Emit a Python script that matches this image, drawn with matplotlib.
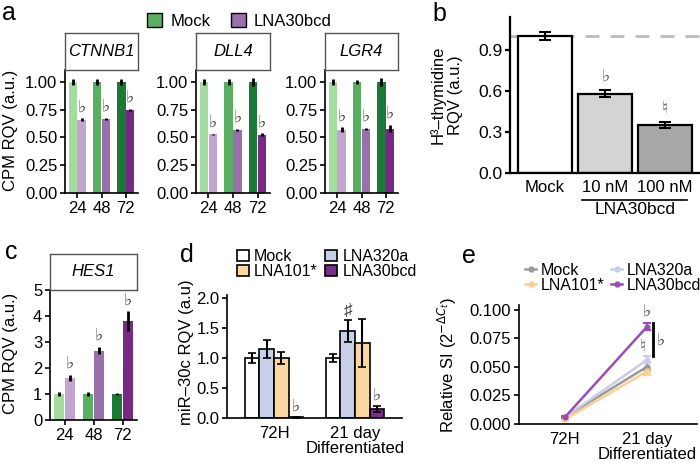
import matplotlib
matplotlib.use("Agg")
import matplotlib.pyplot as plt
from matplotlib.patches import Patch
from matplotlib.lines import Line2D
import numpy as np

plt.rcParams['font.family'] = ['Liberation Sans', 'DejaVu Sans']
plt.rcParams['font.size'] = 11

# ---- data ----
hours = ['24', '48', '72']
genes_a = ['CTNNB1', 'DLL4', 'LGR4']
mock_a = [1.0, 1.0, 1.0]
ctnnb1_mock_err = [0.03, 0.03, 0.025]
ctnnb1_lna = [0.66, 0.67, 0.75]
ctnnb1_lna_err = [0.015, 0.01, 0.01]
dll4_mock_err = [0.03, 0.025, 0.04]
dll4_lna = [0.53, 0.57, 0.525]
dll4_lna_err = [0.005, 0.01, 0.015]
lgr4_mock_err = [0.025, 0.02, 0.04]
lgr4_lna = [0.57, 0.58, 0.58]
lgr4_lna_err = [0.025, 0.01, 0.035]

hes1_mock = [1.0, 1.0, 1.0]
hes1_mock_err = [0.07, 0.06, 0.05]
hes1_lna = [1.63, 2.67, 3.8]
hes1_lna_err = [0.12, 0.15, 0.38]

b_labels = ['Mock', '10 nM', '100 nM']
b_vals = [1.0, 0.58, 0.35]
b_err = [0.03, 0.025, 0.02]
b_marks = ['', '\u266d', '\u266e']

d_groups = ['72H', '21 day\nDifferentiated']
d_series = ['Mock', 'LNA320a', 'LNA101*', 'LNA30bcd']
d_mock = [1.0, 1.0]
d_mock_err = [0.08, 0.07]
d_320a = [1.15, 1.45]
d_320a_err = [0.15, 0.18]
d_101 = [1.0, 1.25]
d_101_err = [0.1, 0.4]
d_30 = [0.01, 0.15]
d_30_err = [0.005, 0.05]

e_mock = [0.006, 0.050]
e_mock_err = [0.001, 0.003]
e_320a = [0.006, 0.056]
e_320a_err = [0.001, 0.003]
e_101 = [0.004, 0.046]
e_101_err = [0.001, 0.003]
e_30 = [0.006, 0.085]
e_30_err = [0.001, 0.003]

green = ['#a6dba0', '#5aae61', '#1b7837']
purple = ['#c2a5cf', '#9970ab', '#762a83']
d_colors = ['white', '#c7d0e6', '#fbd8a3', '#7b2d8e']
e_colors = ['#9a9a9a', '#c9cde8', '#fbcf93', '#9b4db3']
flat = '\u266d'
mark_col = '#444444'

W, H = 700, 466
fig = plt.figure(figsize=(7, 4.66), dpi=100)


def box(x0, y0, x1, y1):
    return [x0 / W, 1 - y1 / H, (x1 - x0) / W, (y1 - y0) / H]


def style(ax, lw=1.2):
    for s in ['top', 'right']:
        ax.spines[s].set_visible(False)
    for s in ['left', 'bottom']:
        ax.spines[s].set_linewidth(lw)
    ax.tick_params(length=3.5, width=lw, labelsize=12, pad=2)


def strip(x0, y0, x1, y1, label):
    s = fig.add_axes(box(x0, y0, x1, y1))
    s.set_xticks([]); s.set_yticks([])
    for sp in s.spines.values():
        sp.set_color('#555555'); sp.set_linewidth(1)
    s.text(0.5, 0.5, label, style='italic', ha='center', va='center', fontsize=12)


def grouped(ax, mock, mock_err, lna, lna_err, ymax, marks=True):
    x = np.arange(1, 4)
    w = 0.34
    ax.bar(x - w / 2 - 0.01, mock, w, color=green)
    ax.bar(x + w / 2 + 0.01, lna, w, color=purple)
    ax.errorbar(x - w / 2 - 0.01, mock, yerr=mock_err, fmt='none', ecolor='black', elinewidth=2)
    ax.errorbar(x + w / 2 + 0.01, lna, yerr=lna_err, fmt='none', ecolor='black', elinewidth=2)
    if marks:
        for xi, v, e in zip(x, lna, lna_err):
            ax.text(xi + w / 2, v + e + 0.03 * ymax, flat, ha='center', va='bottom',
                    fontsize=12.5, color=mark_col)
    ax.set_xlim(0.5, 3.5)
    ax.set_ylim(0, ymax)
    ax.set_xticks(x)
    ax.set_xticklabels(hours)
    style(ax)


# ---- panel a ----
a_lna = [ctnnb1_lna, dll4_lna, lgr4_lna]
a_lna_err = [ctnnb1_lna_err, dll4_lna_err, lgr4_lna_err]
a_mock_err = [ctnnb1_mock_err, dll4_mock_err, lgr4_mock_err]
a_x = [(65, 138), (196, 270), (325, 398)]
for g, (x0, x1), lna, le, me in zip(genes_a, a_x, a_lna, a_lna_err, a_mock_err):
    ax = fig.add_axes(box(x0, 70, x1, 193))
    grouped(ax, mock_a, me, lna, le, 1.108)
    ax.set_yticks([0, 0.25, 0.5, 0.75, 1.0])
    ax.set_yticklabels(['0.00', '0.25', '0.50', '0.75', '1.00'])
    strip(x0, 33, x1, 70, g)
fig.text(11 / W, 1 - 130 / H, 'CPM RQV (a.u.)', rotation=90, ha='center', va='center', fontsize=12)

leg_a = [Patch(facecolor=green[1], edgecolor='black', label='Mock'),
         Patch(facecolor=purple[1], edgecolor='black', label='LNA30bcd')]
fig.legend(handles=leg_a, loc='center left', bbox_to_anchor=(139 / W, 1 - 21 / H), ncol=2,
           frameon=False, fontsize=12, handlelength=0.9, handleheight=0.9,
           handletextpad=0.5, columnspacing=1.2, borderpad=0)

# ---- panel b ----
axb = fig.add_axes(box(510, 17, 700, 173))
xb = np.arange(len(b_vals))
axb.axhline(1.0, color='#bbbbbb', lw=2, ls=(0, (5, 4)), zorder=0)
axb.bar(xb, b_vals, 0.9, color=['white', '#d4d4d4', '#a8a8a8'], edgecolor='black', lw=1.6, zorder=2)
axb.errorbar(xb, b_vals, yerr=b_err, fmt='none', ecolor='black', elinewidth=1.5, capsize=4,
             capthick=1.5, zorder=3)
for xi, v, e, m in zip(xb, b_vals, b_err, b_marks):
    axb.text(xi, v + e + 0.05, m, ha='center', va='bottom', fontsize=12.5, color='#555555')
axb.set_xlim(-0.583, 2.58)
axb.set_ylim(0, 1.141)
axb.set_yticks([0, 0.3, 0.6, 0.9])
axb.set_xticks(xb)
axb.set_xticklabels(b_labels, fontsize=12.5)
style(axb, lw=1.6)
axb.tick_params(axis='y', labelsize=12.5)
axb.tick_params(axis='x', length=0, pad=5)
tr = axb.get_xaxis_transform()
axb.add_line(Line2D([0.62, 2.37], [-0.175, -0.175], transform=tr, color='black', lw=1.2, clip_on=False))
axb.text(1.5, -0.185, 'LNA30bcd', transform=tr, ha='center', va='top', fontsize=12.5)
fig.text(446 / W, 1 - 95 / H, 'H\u00b3\u2013thymidine\nRQV (a.u.)', rotation=90, ha='center',
         va='center', fontsize=12, linespacing=1.2)

# ---- panel c ----
axc = fig.add_axes(box(50, 290, 137, 420))
grouped(axc, hes1_mock, hes1_mock_err, hes1_lna, hes1_lna_err, 5)
axc.set_yticks(range(6))
strip(50, 254, 137, 290, 'HES1')
fig.text(11 / W, 1 - 353 / H, 'CPM RQV (a.u.)', rotation=90, ha='center', va='center', fontsize=12)

# ---- panel d ----
axd = fig.add_axes(box(227, 295, 402, 418))
xd = np.arange(len(d_groups))
wd = 0.18
d_vals = [d_mock, d_320a, d_101, d_30]
d_errs = [d_mock_err, d_320a_err, d_101_err, d_30_err]
for i, (vals, errs, c, lab) in enumerate(zip(d_vals, d_errs, d_colors, d_series)):
    xs = xd + (i - 1.5) * wd
    axd.bar(xs, vals, wd, color=c, edgecolor='black', lw=1.2, label=lab)
    axd.errorbar(xs, vals, yerr=errs, fmt='none', ecolor='black', elinewidth=1.5, capsize=3, capthick=1.2)
for xi, v, e in zip(xd + 1.5 * wd, d_30, d_30_err):
    axd.text(xi, v + e + 0.06, flat, ha='center', va='bottom', fontsize=12.5, color=mark_col)
axd.text(xd[1] - 0.5 * wd, d_320a[1] + d_320a_err[1] + 0.03, '\u266f', ha='center', va='bottom',
         fontsize=12.5, color=mark_col)
axd.set_xlim(-0.58, 1.58)
axd.set_ylim(0, 2.05)
axd.set_yticks([0, 0.5, 1.0, 1.5, 2.0])
axd.set_xticks(xd)
axd.set_xticklabels(d_groups, fontsize=12, linespacing=1.0)
style(axd)
axd.tick_params(axis='x', length=0, pad=6)
fig.text(186 / W, 1 - 352 / H, 'miR\u201330c RQV (a.u)', rotation=90, ha='center', va='center', fontsize=12)
hd, ld = axd.get_legend_handles_labels()
order = [0, 2, 1, 3]
fig.legend([hd[i] for i in order], [ld[i] for i in order], loc='upper left',
           bbox_to_anchor=(229 / W, 1 - 241 / H), ncol=2, frameon=False,
           fontsize=11.5, handlelength=0.75, handleheight=0.75, handletextpad=0.3, columnspacing=0.5,
           labelspacing=0.0, borderpad=0)

# ---- panel e ----
axe = fig.add_axes(box(519, 305, 697, 424))
xe = np.arange(2)
e_vals = [e_mock, e_320a, e_101, e_30]
e_errs = [e_mock_err, e_320a_err, e_101_err, e_30_err]
e_handles = []
for vals, errs, c, lab in zip(e_vals, e_errs, e_colors, d_series):
    axe.errorbar(xe, vals, yerr=errs, color=c, lw=1.8, marker='o', ms=3.5, capsize=3, capthick=1.5,
                 elinewidth=1.5)
    e_handles.append(Line2D([], [], color=c, lw=1.8, marker='o', ms=3.5, label=lab))
axe.text(xe[1], e_30[1] + e_30_err[1] + 0.004, flat, ha='center', va='bottom', fontsize=12.5, color=mark_col)
axe.text(xe[1] - 0.05, e_320a[1] + e_320a_err[1] + 0.002, '\u266e', ha='center', va='bottom',
         fontsize=12.5, color='#555555')
axe.plot([xe[1] + 0.07] * 2, [e_30[1] + e_30_err[1], e_320a[1] + e_320a_err[1]], color='black', lw=2,
         clip_on=False)
axe.text(xe[1] + 0.16, (e_30[1] + e_320a[1]) / 2 + 0.003, flat, ha='center', va='center', fontsize=12.5,
         color=mark_col)
axe.set_xlim(-0.56, 1.61)
axe.set_ylim(0, 0.104)
axe.set_yticks([0, 0.025, 0.05, 0.075, 0.1])
axe.set_yticklabels(['0.000', '0.025', '0.050', '0.075', '0.100'])
axe.set_xticks(xe)
axe.set_xticklabels(d_groups, fontsize=12, linespacing=1.0)
style(axe)
axe.tick_params(axis='x', length=0, pad=6)
fig.text(447 / W, 1 - 365 / H, r'Relative SI (2$^{-\Delta C_t}$)', rotation=90, ha='center',
         va='center', fontsize=12)
fig.legend([e_handles[i] for i in order], [d_series[i] for i in order], loc='upper left',
           bbox_to_anchor=(517 / W, 1 - 255 / H), ncol=2, frameon=False, fontsize=11.5,
           handlelength=0.7, handletextpad=0.3, columnspacing=0.4, labelspacing=0.0, borderpad=0)

# ---- panel letters ----
for lab, x, y in [('a', 2, 13), ('b', 432, 14), ('c', 5, 252), ('d', 180, 255), ('e', 462, 256)]:
    fig.text(x / W, 1 - y / H, lab, fontsize=18, ha='left', va='center')

fig.savefig('out.png', dpi=100)
